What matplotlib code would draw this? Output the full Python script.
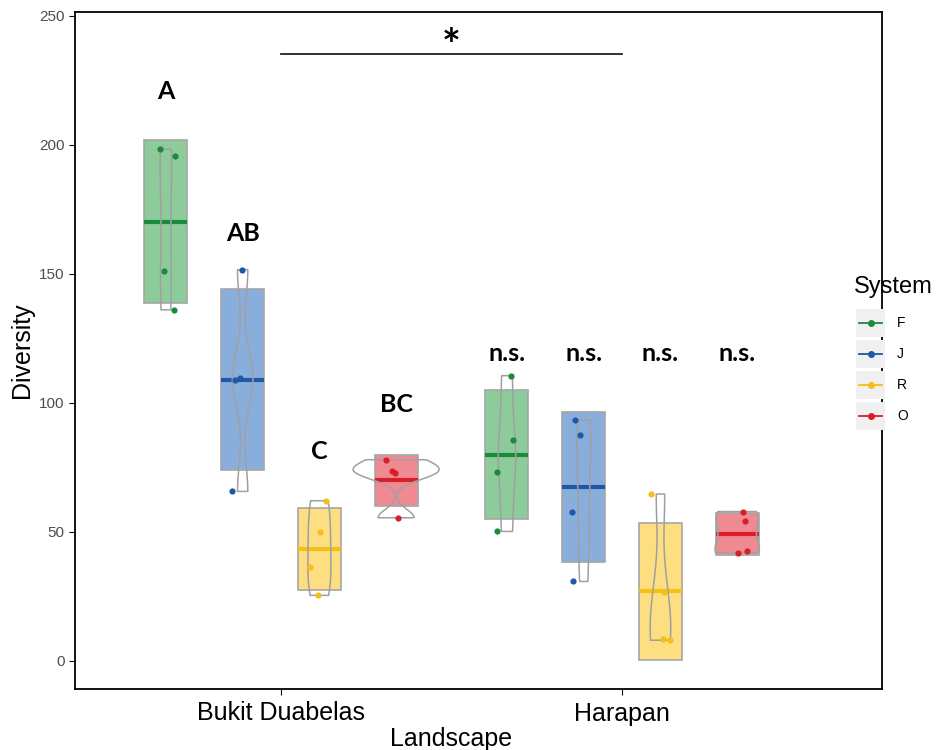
import numpy as np
import matplotlib.pyplot as plt
from matplotlib import cbook, mlab
from matplotlib.patches import Rectangle
from matplotlib.lines import Line2D

# data
landscapes = ["Bukit Duabelas", "Harapan"]
systems = ["F", "J", "R", "O"]

bd_F = [198.3, 195.7, 150.9, 136.0]
bd_J = [151.6, 109.6, 108.8, 65.6]
bd_R = [62.0, 49.7, 36.3, 25.3]
bd_O = [77.9, 73.6, 72.7, 55.4]
ha_F = [110.5, 85.7, 73.3, 50.1]
ha_J = [93.3, 87.6, 57.8, 30.7]
ha_R = [64.6, 26.6, 8.5, 7.9]
ha_O = [57.8, 54.3, 42.5, 41.9]

# horizontal jitter of the points as drawn
bd_jit = [[-0.018, 0.026, -0.005, 0.023],
          [-0.002, -0.007, -0.022, -0.031],
          [0.019, 0.002, -0.028, -0.005],
          [-0.029, -0.013, -0.004, 0.005]]
ha_jit = [[0.013, 0.017, -0.030, -0.030],
          [-0.026, -0.010, -0.034, -0.030],
          [-0.027, 0.010, 0.006, 0.027],
          [0.018, 0.024, 0.028, 0.001]]

# group letters
bd_letters = ["A", "AB", "C", "BC"]
bd_letter_y = [220.5, 165.5, 81, 99.2]
ha_letters = ["n.s.", "n.s.", "n.s.", "n.s."]
ha_letter_y = [119, 119, 119, 119]

dark = ["#1b8a3c", "#1f58a6", "#f5bf16", "#d81e28"]
light = ["#8dcb9b", "#8aaedc", "#fddf82", "#f08a92"]

groups = [[bd_F, bd_J, bd_R, bd_O], [ha_F, ha_J, ha_R, ha_O]]
jits = [bd_jit, ha_jit]

fig = plt.figure(figsize=(9.41, 7.5), dpi=100)
ax = fig.add_axes([75 / 941, 1 - 689 / 750, 807 / 941, 677 / 750])

dodge = 0.225
box_w = 0.126
vmax_w = 0.252


def nrd0(x):
    x = np.asarray(x)
    q1, q3 = np.percentile(x, [25, 75])
    lo = min(np.std(x, ddof=1), (q3 - q1) / 1.34)
    return 0.9 * lo * len(x) ** (-0.2)


def kde(x, coords):
    f = nrd0(x) / np.std(x, ddof=1)
    return mlab.GaussianKDE(x, f).evaluate(coords)


# violin stats for every group (area scaled like ggplot)
stats = []
for g in groups:
    for d in g:
        stats.append(cbook.violin_stats(np.array(d), kde, points=256)[0])
dens_max = max(s["vals"].max() for s in stats)

k = 0
for i, g in enumerate(groups):
    for j, d in enumerate(g):
        xc = i + 1 + (j - 1.5) * dodge
        d = np.array(d)
        m = d.mean()
        sd = d.std(ddof=1)
        ax.add_patch(Rectangle((xc - box_w / 2, m - sd), box_w, 2 * sd,
                               facecolor=light[j], edgecolor="#a6a6a6", lw=1.2, zorder=2))
        ax.plot([xc - box_w / 2, xc + box_w / 2], [m, m], color=dark[j], lw=3, zorder=3,
                solid_capstyle="butt")
        s = stats[k]
        hw = s["vals"] / dens_max * vmax_w / 2
        ax.fill_betweenx(s["coords"], xc - hw, xc + hw, facecolor="none",
                         edgecolor="#a0a0a0", lw=1.1, zorder=4)
        ax.scatter(xc + np.array(jits[i][j]), d, s=20, color=dark[j], zorder=5, lw=0)
        k += 1

for j in range(4):
    ax.text(1 + (j - 1.5) * dodge, bd_letter_y[j], bd_letters[j], ha="center", va="center",
            fontsize=18, fontweight="bold", family="Lato")
    ax.text(2 + (j - 1.5) * dodge, ha_letter_y[j], ha_letters[j], ha="center", va="center",
            fontsize=18, fontweight="bold", family="Lato")

# significance bar between landscapes
ax.plot([1, 2], [235.3, 235.3], color="#222222", lw=1.3)
ax.text(1.5, 238, "*", ha="center", va="center", fontsize=32, fontweight="bold", family="Lato")

ax.set_xlim(0.396, 2.762)
ax.set_ylim(-11, 251.5)
ax.set_xticks([1, 2])
ax.set_xticklabels(landscapes, fontsize=18, family="Liberation Sans")
ax.set_yticks([0, 50, 100, 150, 200, 250])
ax.set_yticklabels(["0", "50", "100", "150", "200", "250"], family="Liberation Sans")
ax.tick_params(axis="y", labelsize=11, labelcolor="#4d4d4d", length=4, width=0.8)
ax.tick_params(axis="x", length=4, width=0.8, pad=5)
for sp in ax.spines.values():
    sp.set_linewidth(1.3)
ax.set_xlabel("Landscape", fontsize=18, family="Liberation Sans")
ax.set_ylabel("Diversity", fontsize=18, family="Liberation Sans")
ax.xaxis.set_label_coords(0.466, -0.056)
ax.yaxis.set_label_coords(-0.051, 0.5)

# legend drawn by hand to get the grey key boxes
def fx(px):
    return px / 941


def fy(py):
    return 1 - py / 750


fig.text(fx(854), fy(287), "System", fontsize=17, family="Liberation Sans", va="center")
for j, lab in enumerate(systems):
    yc = 323 + j * 31
    fig.patches.append(Rectangle((fx(856), fy(yc + 14)), 29 / 941, 28 / 750,
                                 transform=fig.transFigure, facecolor="#f0f0f0",
                                 edgecolor="none"))
    fig.lines.append(Line2D([fx(859), fx(882)], [fy(yc), fy(yc)], transform=fig.transFigure,
                            color=dark[j], lw=1.3))
    fig.lines.append(Line2D([fx(870.5)], [fy(yc)], transform=fig.transFigure,
                            color=dark[j], marker="o", markersize=4, lw=0))
    fig.text(fx(897), fy(yc), lab, fontsize=10, family="Liberation Sans", va="center")

fig.savefig("out.png", dpi=100)
